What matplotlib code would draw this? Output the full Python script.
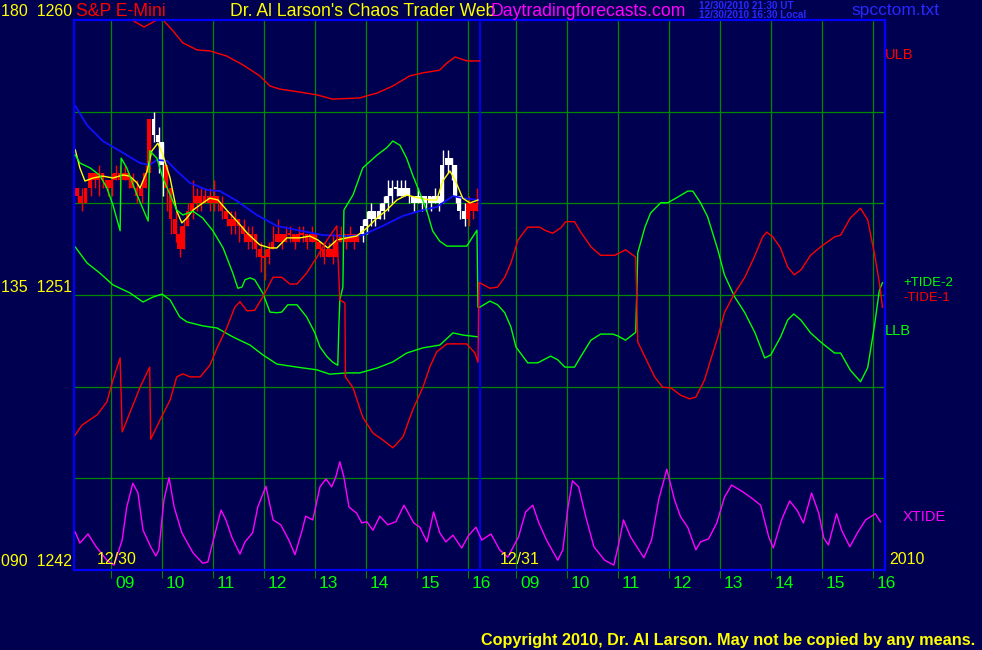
import numpy as np
import matplotlib
matplotlib.use("Agg")
import matplotlib.pyplot as plt
from matplotlib import rcParams

# ── Global style ──────────────────────────────────────────────────────────────
rcParams.update({
    "font.family": ["Liberation Sans", "DejaVu Sans"],
    "figure.dpi": 100,
})

BG = "#000050"
FRAME = "#0000ff"
GRID = "#008800"
YELLOW = "#ffff00"
GREEN = "#00ff00"
RED = "#ff0000"
MAGENTA = "#ff00ff"

# ── Data ──────────────────────────────────────────────────────────────────────
# time axis: clock hours; day 2 is drawn shifted right by DAY2_SHIFT
DAY2_SHIFT = 7.945
X_MIN, X_MAX = 8.275, 24.185
DAY_SPLIT = 16.235
hours = [9, 10, 11, 12, 13, 14, 15, 16]
hour_labels = ["09", "10", "11", "12", "13", "14", "15", "16"]

# 5-minute E-mini bars, 12/30 (first bar 8:20)
bar_first_open = 1254.5
bar_close = [
    1254.25, 1254.0, 1254.5, 1255.0, 1254.75, 1255.0, 1254.75, 1254.5, 1254.75, 1255.0,
    1254.75, 1255.0, 1254.75, 1254.5, 1254.25, 1254.5, 1255.0, 1256.75, 1256.25, 1256.0,
    1255.25, 1254.5, 1253.5, 1253.0, 1252.5, 1253.25, 1253.75, 1254.0, 1254.25, 1254.0,
    1254.25, 1254.0, 1254.25, 1254.0, 1253.75, 1253.5, 1253.25, 1253.5, 1253.25, 1253.0,
    1252.75, 1253.0, 1252.5, 1252.25, 1252.25, 1252.5, 1252.75, 1253.0, 1252.75, 1253.0,
    1253.0, 1252.75, 1253.0, 1253.0, 1252.75, 1253.0, 1252.75, 1252.5, 1252.25, 1252.5,
    1252.25, 1252.75, 1253.0, 1252.75, 1253.0, 1252.75, 1253.0, 1253.25, 1253.5, 1253.75,
    1253.5, 1253.75, 1254.0, 1254.25, 1254.5, 1254.5, 1254.25, 1254.5, 1254.25, 1254.0,
    1254.25, 1254.0, 1254.25, 1254.0, 1254.25, 1254.0, 1255.25, 1255.5, 1255.25, 1254.25,
    1253.75, 1253.5, 1254.0, 1253.75, 1254.0,
]
bar_high = [
    1254.5, 1254.5, 1254.5, 1255.0, 1255.0, 1255.25, 1255.0, 1254.75, 1255.0, 1255.25,
    1255.25, 1255.25, 1255.0, 1255.0, 1254.75, 1254.75, 1255.25, 1256.75, 1257.0, 1256.5,
    1256.0, 1255.25, 1254.5, 1253.75, 1253.25, 1253.5, 1254.0, 1254.75, 1254.5, 1254.5,
    1254.5, 1254.5, 1254.75, 1254.25, 1254.25, 1253.75, 1253.75, 1253.75, 1253.5, 1253.5,
    1253.25, 1253.25, 1253.0, 1252.75, 1252.5, 1252.75, 1253.25, 1253.5, 1253.0, 1253.25,
    1253.25, 1253.0, 1253.25, 1253.25, 1253.0, 1253.25, 1253.0, 1252.75, 1252.75, 1252.75,
    1253.0, 1253.0, 1253.25, 1253.0, 1253.25, 1253.0, 1253.0, 1253.5, 1253.75, 1254.0,
    1253.75, 1254.0, 1254.25, 1254.75, 1254.75, 1254.75, 1254.75, 1254.75, 1254.5, 1254.25,
    1254.5, 1254.25, 1254.25, 1254.25, 1254.5, 1254.25, 1255.75, 1255.75, 1255.5, 1255.25,
    1254.25, 1254.0, 1254.25, 1254.0, 1254.5,
]
bar_low = [
    1254.0, 1253.75, 1254.0, 1254.25, 1254.5, 1254.25, 1254.5, 1254.25, 1254.25, 1254.75,
    1254.5, 1254.75, 1254.5, 1254.5, 1254.0, 1254.0, 1254.5, 1255.25, 1256.0, 1255.0,
    1254.25, 1253.75, 1253.0, 1252.75, 1252.25, 1252.5, 1253.25, 1253.5, 1253.75, 1253.75,
    1254.0, 1253.75, 1253.75, 1253.75, 1253.5, 1253.25, 1253.0, 1253.0, 1252.75, 1252.75,
    1252.5, 1252.5, 1252.25, 1251.75, 1251.5, 1252.0, 1252.5, 1252.75, 1252.5, 1252.75,
    1252.75, 1252.5, 1252.75, 1252.75, 1252.5, 1252.75, 1252.5, 1252.25, 1252.0, 1252.25,
    1252.0, 1252.5, 1252.75, 1252.5, 1252.75, 1252.5, 1252.75, 1252.75, 1253.0, 1253.25,
    1253.25, 1253.5, 1253.5, 1253.75, 1254.0, 1254.25, 1254.25, 1254.25, 1254.0, 1253.75,
    1254.0, 1253.75, 1253.75, 1253.75, 1254.0, 1253.75, 1254.0, 1255.0, 1254.75, 1254.0,
    1253.5, 1253.25, 1253.25, 1253.5, 1253.75,
]
bar_colors = "R" * 18 + "W" * 3 + "R" * 46 + "W" * 25 + "R" * 3

# price overlays (day 1)
yel_t = [8.30, 8.39, 8.49, 8.65, 8.84, 9.04, 9.24, 9.37, 9.51, 9.57, 9.71, 9.80, 9.92,
         10.02, 10.16, 10.29, 10.39, 10.49, 10.61, 10.80, 10.94, 11.10, 11.27, 11.47,
         11.67, 11.92, 12.12, 12.255, 12.45, 12.71, 12.90, 13.06, 13.255, 13.43, 13.63,
         13.82, 14.02, 14.22, 14.41, 14.61, 14.80, 15.06, 15.255, 15.39, 15.51, 15.65,
         15.76, 15.90, 16.04, 16.20]
yel_p = [1255.75, 1255.16, 1254.73, 1254.83, 1254.89, 1254.83, 1254.93, 1254.89, 1254.67,
         1254.50, 1255.06, 1255.71, 1255.97, 1255.58, 1254.83, 1253.75, 1253.36, 1253.52,
         1253.78, 1254.01, 1254.17, 1254.11, 1253.78, 1253.42, 1253.03, 1252.64, 1252.54,
         1252.54, 1252.87, 1252.87, 1252.93, 1252.80, 1252.54, 1252.80, 1252.87, 1252.93,
         1253.19, 1253.52, 1253.78, 1254.11, 1254.27, 1254.17, 1254.11, 1254.11, 1254.73,
         1255.06, 1254.73, 1254.17, 1254.01, 1254.11]

blue_t = [8.30, 8.53, 8.84, 9.18, 9.57, 9.76, 9.90, 10.10, 10.29, 10.55, 10.88, 11.14,
          11.47, 11.86, 12.255, 12.76, 13.16, 13.63, 13.94, 14.33, 14.73, 15.12, 15.39,
          15.71, 15.90, 16.20]
blue_p = [1257.19, 1256.56, 1256.04, 1255.71, 1255.32, 1255.25, 1255.42, 1255.39, 1255.06,
          1254.67, 1254.44, 1254.40, 1254.08, 1253.62, 1253.26, 1253.09, 1252.96, 1252.93,
          1252.96, 1253.26, 1253.59, 1253.78, 1253.88, 1254.24, 1254.17, 1254.11]

ulb_t = [9.18, 9.41, 9.65, 9.90, 9.96, 10.02, 10.22, 10.41, 10.69, 10.94, 11.27, 11.59,
         11.92, 12.12, 12.31, 12.71, 13.04, 13.35, 13.88, 14.22, 14.53, 14.86, 15.12,
         15.45, 15.59, 15.75, 15.98, 16.235]
ulb_p = [1260.33, 1260.0, 1259.77, 1260.0, 1260.1, 1260.0, 1259.64, 1259.25, 1259.02,
         1258.99, 1258.82, 1258.53, 1258.17, 1257.84, 1257.74, 1257.64, 1257.55, 1257.41,
         1257.45, 1257.61, 1257.84, 1258.17, 1258.27, 1258.36, 1258.59, 1258.79, 1258.66,
         1258.66]

llb_t = [8.30, 8.53, 8.78, 9.04, 9.37, 9.63, 9.82, 10.00, 10.16, 10.35, 10.49, 10.80,
         11.08, 11.39, 11.73, 11.98, 12.255, 12.65, 13.04, 13.29, 13.63, 13.88, 14.22,
         14.53, 14.80, 15.12, 15.45, 15.71, 15.90, 16.20]
llb_p = [1252.57, 1252.05, 1251.72, 1251.33, 1251.07, 1250.77, 1250.93, 1251.03, 1250.84,
         1250.28, 1250.12, 1249.99, 1249.92, 1249.63, 1249.36, 1249.04, 1248.74, 1248.64,
         1248.55, 1248.41, 1248.45, 1248.45, 1248.61, 1248.81, 1249.10, 1249.27, 1249.36,
         1249.76, 1249.69, 1249.63]

# tide indicators (90..180 scale)
tide2_d1_t = [8.30, 8.39, 8.59, 8.78, 8.92, 9.04, 9.18, 9.20, 9.31, 9.51, 9.73, 9.76, 9.90,
              10.02, 10.16, 10.29, 10.41, 10.61, 10.80, 11.00, 11.20, 11.39, 11.49, 11.57,
              11.63, 11.73, 11.82, 11.98, 12.12, 12.255, 12.35, 12.47, 12.65, 12.84, 13.00,
              13.10, 13.24, 13.35, 13.45, 13.47, 13.49, 13.55, 13.57, 13.75, 13.94, 14.22,
              14.41, 14.53, 14.67, 14.80, 14.92, 15.06, 15.20, 15.31, 15.45, 15.59, 15.98,
              16.18, 16.20]
tide2_d1_v = [157.9, 156.6, 155.8, 154.6, 152.5, 149.7, 145.5, 157.4, 155.8, 151.4, 147.1,
              158.6, 157.4, 154.1, 151.4, 148.9, 148.1, 148.7, 147.6, 145.5, 142.7, 138.6,
              136.1, 136.3, 137.5, 137.8, 137.5, 135.3, 132.2, 132.1, 132.2, 133.4, 133.4,
              131.4, 128.8, 126.5, 124.9, 124.0, 123.5, 129.6, 134.2, 136.3, 148.9, 151.4,
              155.8, 157.9, 159.1, 160.2, 159.5, 157.4, 154.6, 151.7, 148.7, 145.5, 143.8,
              143.0, 143.0, 145.6, 133.0]
tide2_d2_t = [8.29, 8.49, 8.64, 8.78, 8.90, 9.00, 9.23, 9.43, 9.565, 9.68, 9.82, 9.96,
              10.15, 10.27, 10.47, 10.66, 10.90, 11.00, 11.15, 11.35, 11.37, 11.39, 11.53,
              11.64, 11.84, 11.98, 12.17, 12.37, 12.47, 12.62, 12.76, 12.96, 13.09, 13.29,
              13.49, 13.69, 13.88, 14.00, 14.19, 14.33, 14.45, 14.59, 14.78, 14.98, 15.25,
              15.37, 15.56, 15.76, 15.90, 16.03, 16.13, 16.19]
tide2_d2_v = [133.0, 134.0, 133.4, 132.1, 129.8, 126.5, 123.9, 123.9, 124.5, 125.0, 124.4,
              123.2, 123.2, 124.9, 127.6, 128.6, 128.6, 128.3, 127.6, 128.9, 135.3, 141.9,
              146.1, 148.4, 150.1, 150.1, 151.0, 152.0, 152.0, 150.1, 147.8, 142.4, 138.3,
              134.7, 132.1, 128.8, 124.7, 125.2, 128.1, 130.9, 131.9, 130.9, 128.8, 127.3,
              125.5, 125.5, 122.7, 120.8, 123.1, 129.8, 135.8, 137.0]

tide1_d1_t = [8.30, 8.43, 8.73, 8.92, 9.04, 9.18, 9.22, 9.37, 9.57, 9.76, 9.78, 9.96, 10.16,
              10.29, 10.41, 10.55, 10.75, 10.94, 11.08, 11.27, 11.43, 11.53, 11.67, 11.82,
              11.98, 12.18, 12.35, 12.51, 12.65, 12.84, 13.04, 13.24, 13.43, 13.49, 13.59,
              13.60, 13.75, 13.94, 14.14, 14.33, 14.53, 14.73, 14.92, 15.12, 15.255, 15.39,
              15.59, 15.98, 16.14, 16.20, 16.22]
tide1_d1_v = [112.1, 113.7, 115.4, 117.5, 121.1, 124.7, 112.6, 115.7, 119.9, 123.2, 111.4,
              114.5, 117.8, 121.6, 122.1, 121.6, 121.6, 123.5, 126.3, 129.6, 133.0, 133.9,
              132.4, 132.5, 134.7, 137.9, 137.9, 136.8, 136.8, 138.6, 141.2, 144.0, 146.3,
              134.2, 133.7, 121.6, 119.8, 115.0, 112.4, 111.3, 110.0, 111.8, 116.2, 119.9,
              123.2, 125.7, 127.0, 127.0, 125.5, 124.0, 137.0]
tide1_d2_t = [8.29, 8.49, 8.64, 8.78, 8.90, 9.04, 9.23, 9.47, 9.565, 9.72, 9.88, 9.98, 10.15,
              10.27, 10.47, 10.66, 10.94, 11.15, 11.35, 11.39, 11.53, 11.72, 11.88, 12.04,
              12.23, 12.41, 12.53, 12.70, 12.82, 12.96, 13.09, 13.29, 13.49, 13.69, 13.84,
              13.92, 14.04, 14.19, 14.33, 14.46, 14.59, 14.78, 14.98, 15.25, 15.37, 15.56,
              15.76, 15.90, 16.03, 16.13, 16.19]
tide1_d2_v = [137.0, 136.1, 136.3, 137.9, 140.2, 144.0, 146.1, 146.1, 145.6, 145.1, 146.0,
              147.0, 147.0, 145.3, 142.9, 141.5, 141.5, 142.4, 141.2, 127.3, 124.9, 121.6,
              119.9, 119.8, 118.6, 118.0, 118.3, 121.1, 124.4, 128.1, 132.1, 135.3, 137.9,
              141.5, 144.5, 145.3, 144.5, 142.7, 139.6, 138.3, 139.1, 141.5, 142.9, 144.5,
              144.8, 147.6, 149.2, 147.3, 141.9, 137.0, 133.0]

xtide_d1_t = [8.30, 8.39, 8.55, 8.71, 8.92, 9.06, 9.22, 9.31, 9.43, 9.53, 9.63, 9.78, 9.88,
              9.94, 10.04, 10.14, 10.24, 10.39, 10.61, 10.80, 10.90, 11.00, 11.16, 11.255,
              11.37, 11.53, 11.63, 11.78, 11.88, 12.04, 12.18, 12.33, 12.49, 12.61, 12.75,
              12.82, 12.96, 13.10, 13.22, 13.33, 13.41, 13.49, 13.57, 13.67, 13.82, 13.92,
              14.02, 14.14, 14.275, 14.43, 14.59, 14.75, 14.94, 15.06, 15.20, 15.33, 15.45,
              15.57, 15.71, 15.88, 16.02, 16.16]
xtide_d1_v = [96.2, 94.4, 95.9, 93.8, 91.6, 90.8, 94.9, 100.3, 104.2, 102.6, 96.5, 93.8,
              92.3, 93.3, 101.5, 105.1, 100.3, 96.1, 92.8, 91.1, 91.3, 94.6, 99.8, 98.2,
              95.4, 92.6, 94.6, 96.1, 100.3, 103.7, 98.2, 97.4, 94.9, 92.5, 96.5, 98.8,
              98.2, 103.6, 104.9, 103.6, 105.2, 107.7, 105.2, 100.3, 99.3, 97.7, 97.9, 96.5,
              98.8, 97.4, 97.9, 100.6, 97.7, 97.0, 94.6, 99.5, 96.1, 94.6, 95.7, 93.6, 95.7,
              97.0]
xtide_d2_t = [8.33, 8.51, 8.68, 8.84, 9.05, 9.19, 9.33, 9.45, 9.60, 9.82, 9.92, 10.02, 10.11,
              10.23, 10.37, 10.53, 10.74, 10.92, 11.02, 11.11, 11.25, 11.41, 11.51, 11.66,
              11.80, 11.96, 12.11, 12.23, 12.37, 12.53, 12.62, 12.78, 12.94, 13.09, 13.23,
              13.45, 13.65, 13.80, 13.96, 14.05, 14.21, 14.37, 14.52, 14.64, 14.80, 14.94,
              15.04, 15.13, 15.29, 15.39, 15.55, 15.70, 15.86, 16.05, 16.15]
xtide_d2_v = [94.9, 95.9, 93.3, 92.1, 95.4, 99.5, 100.6, 97.7, 94.9, 91.6, 93.3, 100.3,
              104.6, 103.6, 98.7, 93.8, 91.6, 90.8, 94.4, 98.2, 95.4, 93.3, 92.0, 94.9,
              101.5, 106.5, 101.5, 98.7, 97.0, 93.3, 94.6, 95.1, 97.7, 101.9, 103.9, 102.8,
              101.6, 100.6, 95.4, 93.6, 98.2, 101.3, 99.7, 97.7, 102.6, 99.3, 95.2, 94.1,
              99.2, 96.5, 93.8, 96.1, 98.2, 99.2, 97.9]

# ── Figure ────────────────────────────────────────────────────────────────────
W, H = 982, 650
fig = plt.figure(figsize=(W / 100, H / 100), dpi=100, facecolor=BG)
ax = fig.add_axes([74 / W, 80 / H, 811 / W, 550 / H], facecolor=BG)
ax.set_xlim(X_MIN, X_MAX)
ax.set_ylim(1242, 1260)
for s in ax.spines.values():
    s.set_color(FRAME)
    s.set_linewidth(1.6)
    s.set_zorder(10)

tick_x = [h for h in hours] + [h + DAY2_SHIFT for h in hours]
for x in tick_x:
    ax.axvline(x, color=GRID, lw=0.9, zorder=1)
for y in [1245, 1248, 1251, 1254, 1257]:
    ax.axhline(y, color=GRID, lw=0.9, zorder=1)
ax.axvline(DAY_SPLIT, color=FRAME, lw=1.3, zorder=2)

ax.set_xticks(tick_x)
ax.set_xticklabels([])
ax.set_yticks([])
ax.tick_params(axis="x", direction="out", length=6, width=0.8, color=GRID)
for x, lab in zip(tick_x, hour_labels * 2):
    ax.annotate(lab, xy=(x, 0), xycoords=("data", "axes fraction"), xytext=(3, -4),
                textcoords="offset points", ha="left", va="top", color=GREEN,
                fontsize=12.5, annotation_clip=False)

# candles
close = np.array(bar_close)
opn = np.r_[bar_first_open, close[:-1]]
bar_t = 8 + 20 / 60 + np.arange(len(close)) * 5 / 60
body_lo = np.minimum(opn, close)
body_hi = np.maximum(opn, close)
body_h = np.maximum(body_hi - body_lo, 0.07)
body_b = (body_lo + body_hi) / 2 - body_h / 2
cols = [RED if c == "R" else "#ffffff" for c in bar_colors]
ax.vlines(bar_t + 0.02, bar_low, bar_high, colors=cols, lw=1.0, zorder=3)
ax.bar(bar_t, body_h, bottom=body_b, width=0.072, color=cols, linewidth=0, zorder=3)

# price overlays
ax.plot(ulb_t, ulb_p, color=RED, lw=1.0, zorder=4)
ax.plot(llb_t, llb_p, color=GREEN, lw=1.0, zorder=4)
ax.plot(blue_t, blue_p, color="#1010ff", lw=1.3, zorder=4)
ax.plot(yel_t, yel_p, color=YELLOW, lw=1.0, zorder=5)

# tide indicators on the 90..180 scale
ax2 = ax.twinx()
ax2.set_ylim(90, 180)
ax2.axis("off")
d2 = lambda t: np.array(t) + DAY2_SHIFT
ax2.plot(np.r_[tide2_d1_t, d2(tide2_d2_t)], np.r_[tide2_d1_v, tide2_d2_v],
         color=GREEN, lw=1.0, zorder=4)
ax2.plot(np.r_[tide1_d1_t, d2(tide1_d2_t)], np.r_[tide1_d1_v, tide1_d2_v],
         color=RED, lw=1.0, zorder=4)
ax2.plot(np.r_[xtide_d1_t, d2(xtide_d2_t)], np.r_[xtide_d1_v, xtide_d2_v],
         color=MAGENTA, lw=1.0, zorder=4)
ax2.set_xlim(X_MIN, X_MAX)


# ── Texts (pixel positions) ───────────────────────────────────────────────────
def put(x, y, s, color, size, **kw):
    fig.text(x / W, 1 - y / H, s, color=color, fontsize=size, va="center", ha="left", **kw)


put(1, 12, "180  1260", YELLOW, 11.5)
put(1, 287, "135  1251", YELLOW, 11.5)
put(1, 562, "090  1242", YELLOW, 11.5)
put(76, 12, "S&P E-Mini", RED, 12.7)
put(230, 12, "Dr. Al Larson's Chaos Trader Web", YELLOW, 12.7)
put(490, 12, "Daytradingforecasts.com", MAGENTA, 12.7)
put(699, 6, "12/30/2010 21:30 UT", "#2828ff", 7.2, fontweight="bold")
put(699, 15, "12/30/2010 16:30 Local", "#2828ff", 7.2, fontweight="bold")
put(851, 10, "spcctom.txt", "#2828ff", 12.5)
put(885, 55, "ULB", RED, 10.5)
put(903, 283, "+TIDE-2", GREEN, 9.5)
put(903, 298, "-TIDE-1", RED, 9.5)
put(885, 331, "LLB", GREEN, 10.5)
put(903, 517, "XTIDE", MAGENTA, 10.5)
put(97, 559, "12/30", YELLOW, 11.5)
put(500, 559, "12/31", YELLOW, 11.5)
put(889, 560, "2010", YELLOW, 11.5)
put(481, 640, "Copyright 2010, Dr. Al Larson. May not be copied by any means.", YELLOW, 11.7,
    fontweight="bold")

fig.savefig("out.png", dpi=100, facecolor=BG)
